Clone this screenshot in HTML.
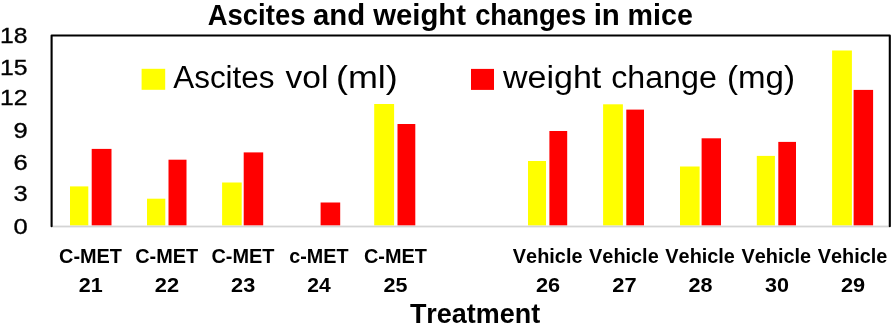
<!DOCTYPE html>
<html><head><meta charset="utf-8"><title>Ascites and weight changes in mice</title>
<style>
html,body{margin:0;padding:0;background:#fff;width:894px;height:327px;overflow:hidden}
svg{display:block;will-change:transform;font-family:"Liberation Sans",sans-serif;fill:#000}
svg text{font-family:"Liberation Sans",sans-serif;font-kerning:none}
</style></head><body>
<svg width="894" height="327" viewBox="0 0 894 327">
<rect width="894" height="327" fill="#fff"/>
<rect x="70.00" y="186.40" width="18.30" height="39.10" fill="#FFFF00"/>
<rect x="91.70" y="148.90" width="19.80" height="76.60" fill="#FF0000"/>
<rect x="147.00" y="198.70" width="18.30" height="26.80" fill="#FFFF00"/>
<rect x="168.50" y="159.70" width="18.00" height="65.80" fill="#FF0000"/>
<rect x="222.10" y="182.50" width="19.60" height="43.00" fill="#FFFF00"/>
<rect x="243.70" y="152.40" width="19.50" height="73.10" fill="#FF0000"/>
<rect x="320.60" y="202.50" width="19.60" height="23.00" fill="#FF0000"/>
<rect x="374.20" y="104.00" width="19.90" height="121.50" fill="#FFFF00"/>
<rect x="397.50" y="124.00" width="17.80" height="101.50" fill="#FF0000"/>
<rect x="528.00" y="161.00" width="18.00" height="64.50" fill="#FFFF00"/>
<rect x="549.40" y="131.00" width="17.80" height="94.50" fill="#FF0000"/>
<rect x="603.10" y="104.30" width="19.80" height="121.20" fill="#FFFF00"/>
<rect x="626.30" y="109.60" width="17.70" height="115.90" fill="#FF0000"/>
<rect x="680.00" y="166.50" width="19.60" height="59.00" fill="#FFFF00"/>
<rect x="701.60" y="138.30" width="19.40" height="87.20" fill="#FF0000"/>
<rect x="756.80" y="155.90" width="18.10" height="69.60" fill="#FFFF00"/>
<rect x="778.30" y="141.90" width="17.70" height="83.60" fill="#FF0000"/>
<rect x="832.10" y="50.50" width="19.80" height="175.00" fill="#FFFF00"/>
<rect x="853.60" y="89.90" width="19.50" height="135.60" fill="#FF0000"/>
<rect x="52" y="225.6" width="837" height="1.8" fill="#D4D4D4"/>
<path d="M51.6 226.2 V35.5 H889.8 V226.2" fill="none" stroke="#000" stroke-width="2.1" stroke-linejoin="round" stroke-linecap="round"/>
<text x="27.6" y="234.06" font-size="22.8" text-anchor="end" stroke="#000" stroke-width="0.35" textLength="14.2" lengthAdjust="spacingAndGlyphs">0</text>
<text x="27.6" y="201.19" font-size="22.8" text-anchor="end" stroke="#000" stroke-width="0.35" textLength="14.2" lengthAdjust="spacingAndGlyphs">3</text>
<text x="27.6" y="169.53" font-size="22.8" text-anchor="end" stroke="#000" stroke-width="0.35" textLength="14.2" lengthAdjust="spacingAndGlyphs">6</text>
<text x="27.6" y="137.86" font-size="22.8" text-anchor="end" stroke="#000" stroke-width="0.35" textLength="14.2" lengthAdjust="spacingAndGlyphs">9</text>
<text x="27.6" y="104.89" font-size="22.8" text-anchor="end" stroke="#000" stroke-width="0.35" textLength="27.5" lengthAdjust="spacingAndGlyphs">12</text>
<text x="27.6" y="75.03" font-size="22.8" text-anchor="end" stroke="#000" stroke-width="0.35" textLength="27.5" lengthAdjust="spacingAndGlyphs">15</text>
<text x="27.6" y="43.36" font-size="22.8" text-anchor="end" stroke="#000" stroke-width="0.35" textLength="27.5" lengthAdjust="spacingAndGlyphs">18</text>
<text x="207.72" y="25.2" font-size="30" font-weight="bold" textLength="97.71" lengthAdjust="spacingAndGlyphs">Ascites</text>
<text x="312.94" y="25.2" font-size="30" font-weight="bold" textLength="52.20" lengthAdjust="spacingAndGlyphs">and</text>
<text x="373.19" y="25.2" font-size="30" font-weight="bold" textLength="92.87" lengthAdjust="spacingAndGlyphs">weight</text>
<text x="475.13" y="25.2" font-size="30" font-weight="bold" textLength="111.19" lengthAdjust="spacingAndGlyphs">changes</text>
<text x="593.64" y="25.2" font-size="30" font-weight="bold" textLength="26.18" lengthAdjust="spacingAndGlyphs">in</text>
<text x="627.61" y="25.2" font-size="30" font-weight="bold" textLength="65.27" lengthAdjust="spacingAndGlyphs">mice</text>
<rect x="141.6" y="68.8" width="23.6" height="21.0" fill="#FFFF00"/>
<rect x="471" y="68.9" width="23.0" height="21.0" fill="#FF0000"/>
<text x="173.24" y="87.6" font-size="31" textLength="101.30" lengthAdjust="spacingAndGlyphs">Ascites</text>
<text x="285.59" y="87.6" font-size="31" textLength="42.86" lengthAdjust="spacingAndGlyphs">vol</text>
<text x="335.97" y="87.6" font-size="31" textLength="61.86" lengthAdjust="spacingAndGlyphs">(ml)</text>
<text x="502.95" y="87.6" font-size="31" textLength="98.30" lengthAdjust="spacingAndGlyphs">weight</text>
<text x="611.23" y="87.6" font-size="31" textLength="105.60" lengthAdjust="spacingAndGlyphs">change</text>
<text x="727.05" y="87.6" font-size="31" textLength="68.00" lengthAdjust="spacingAndGlyphs">(mg)</text>
<text x="59.05" y="262.9" font-size="20" font-weight="bold" textLength="62.93" lengthAdjust="spacingAndGlyphs">C-MET</text>
<text x="78.67" y="291.7" font-size="20.8" font-weight="bold" textLength="23.95" lengthAdjust="spacingAndGlyphs">21</text>
<text x="135.28" y="262.9" font-size="20" font-weight="bold" textLength="62.93" lengthAdjust="spacingAndGlyphs">C-MET</text>
<text x="154.89" y="291.7" font-size="20.8" font-weight="bold" textLength="24.23" lengthAdjust="spacingAndGlyphs">22</text>
<text x="211.51" y="262.9" font-size="20" font-weight="bold" textLength="62.93" lengthAdjust="spacingAndGlyphs">C-MET</text>
<text x="231.12" y="291.7" font-size="20.8" font-weight="bold" textLength="24.14" lengthAdjust="spacingAndGlyphs">23</text>
<text x="289.33" y="262.9" font-size="20" font-weight="bold" textLength="59.18" lengthAdjust="spacingAndGlyphs">c-MET</text>
<text x="307.37" y="291.7" font-size="20.8" font-weight="bold" textLength="23.44" lengthAdjust="spacingAndGlyphs">24</text>
<text x="363.97" y="262.9" font-size="20" font-weight="bold" textLength="62.93" lengthAdjust="spacingAndGlyphs">C-MET</text>
<text x="383.59" y="291.7" font-size="20.8" font-weight="bold" textLength="23.95" lengthAdjust="spacingAndGlyphs">25</text>
<text x="512.86" y="262.9" font-size="20" font-weight="bold" textLength="69.62" lengthAdjust="spacingAndGlyphs">Vehicle</text>
<text x="536.04" y="291.7" font-size="20.8" font-weight="bold" textLength="24.14" lengthAdjust="spacingAndGlyphs">26</text>
<text x="589.09" y="262.9" font-size="20" font-weight="bold" textLength="69.62" lengthAdjust="spacingAndGlyphs">Vehicle</text>
<text x="612.27" y="291.7" font-size="20.8" font-weight="bold" textLength="24.32" lengthAdjust="spacingAndGlyphs">27</text>
<text x="665.32" y="262.9" font-size="20" font-weight="bold" textLength="69.62" lengthAdjust="spacingAndGlyphs">Vehicle</text>
<text x="688.51" y="291.7" font-size="20.8" font-weight="bold" textLength="24.01" lengthAdjust="spacingAndGlyphs">28</text>
<text x="741.55" y="262.9" font-size="20" font-weight="bold" textLength="69.62" lengthAdjust="spacingAndGlyphs">Vehicle</text>
<text x="764.99" y="291.7" font-size="20.8" font-weight="bold" textLength="23.98" lengthAdjust="spacingAndGlyphs">30</text>
<text x="817.78" y="262.9" font-size="20" font-weight="bold" textLength="69.62" lengthAdjust="spacingAndGlyphs">Vehicle</text>
<text x="840.96" y="291.7" font-size="20.8" font-weight="bold" textLength="24.16" lengthAdjust="spacingAndGlyphs">29</text>
<text x="409.90" y="323.2" font-size="28.2" font-weight="bold" textLength="130.33" lengthAdjust="spacingAndGlyphs">Treatment</text>
</svg>
</body></html>
